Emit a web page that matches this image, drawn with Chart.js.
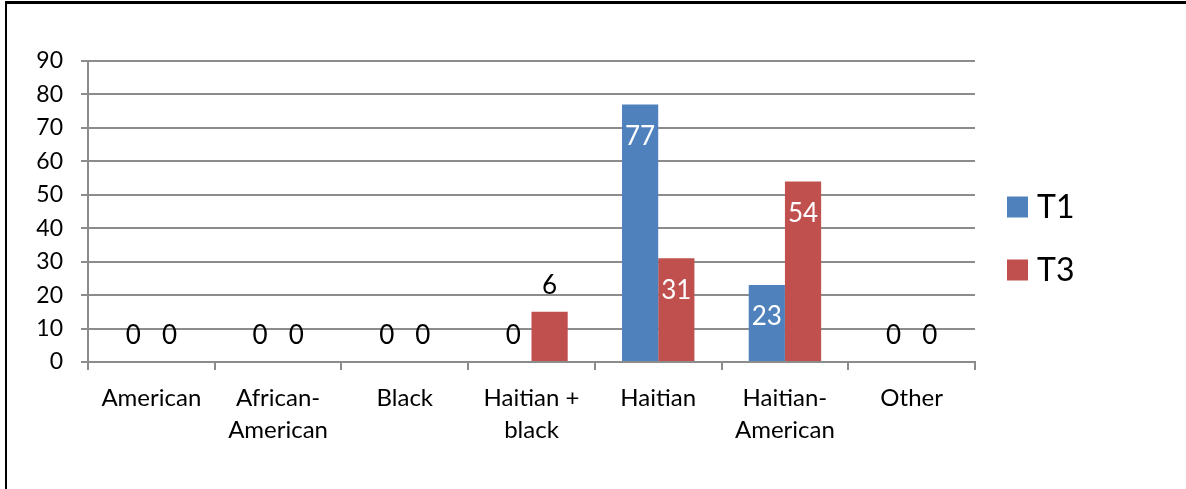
<!DOCTYPE html>
<html>
<head>
<meta charset="utf-8">
<script src="https://cdn.jsdelivr.net/npm/chart.js@4/dist/chart.umd.min.js"></script>
<style>
  html, body { margin: 0; padding: 0; background: #fff; }
  #wrap { position: relative; width: 1186px; height: 489px; }
  #frame {
    position: absolute; left: 5px; top: 1px; right: 0; bottom: 0;
    border-left: 2px solid #000; border-top: 3px solid #000;
  }
  #chart { position: absolute; left: 0; top: 0; }
</style>
</head>
<body>
<div id="wrap">
  <div id="frame"></div>
  <canvas id="chart" width="1186" height="489"></canvas>
</div>
<script>
const categories = [
  "American",
  ["African-", "American"],
  "Black",
  ["Haitian +", "black"],
  "Haitian",
  ["Haitian-", "American"],
  "Other",
];
const t1Values = [0, 0, 0, 0, 77, 23, 0];
const t3Values = [0, 0, 0, 15, 31, 54, 0];
// the labels printed on the bars (the 6 sits on a bar drawn at 15)
const t1Labels = ["0", "0", "0", "0", "77", "23", "0"];
const t3Labels = ["0", "0", "0", "6", "31", "54", "0"];
const yTicks = [0, 10, 20, 30, 40, 50, 60, 70, 80, 90];

const FONT = "Lato, 'Open Sans', sans-serif";
const gridColor = "#8c8c8c";

// labels on the bars: white inside tall bars, black above short ones
const barLabels = {
  id: "barLabels",
  afterDatasetsDraw(chart) {
    const ctx = chart.ctx;
    ctx.save();
    ctx.font = "26px " + FONT;
    ctx.textAlign = "center";
    ctx.textBaseline = "middle";
    chart.data.datasets.forEach((ds, i) => {
      const meta = chart.getDatasetMeta(i);
      meta.data.forEach((bar, j) => {
        const h = bar.base - bar.y;
        if (h > 60) {
          ctx.fillStyle = "#fff";
          ctx.fillText(ds.labels[j], bar.x, bar.y + 32);
        } else {
          ctx.fillStyle = "#000";
          ctx.fillText(ds.labels[j], bar.x, bar.y - 26);
        }
      });
    });
    ctx.restore();
  },
};

// legend drawn to the right of the plot, like the original
const sideLegend = {
  id: "sideLegend",
  afterDraw(chart) {
    const ctx = chart.ctx;
    const area = chart.chartArea;
    const x = area.right + 32;
    ctx.save();
    ctx.font = "32px " + FONT;
    ctx.textBaseline = "middle";
    chart.data.datasets.forEach((ds, i) => {
      const cy = 207 + i * 63;
      ctx.fillStyle = ds.backgroundColor;
      ctx.fillRect(x, cy - 10.5, 21, 21);
      ctx.fillStyle = "#000";
      ctx.fillText(ds.label, x + 30, cy + 1);
    });
    ctx.restore();
  },
};

const chart = document.querySelector("#chart").getContext("2d");

new Chart(chart, {
  type: "bar",
  data: {
    labels: categories,
    datasets: [
      {
        label: "T1",
        data: t1Values,
        labels: t1Labels,
        backgroundColor: "#4F81BD",
      },
      {
        label: "T3",
        data: t3Values,
        labels: t3Labels,
        backgroundColor: "#C0504D",
      },
    ],
  },
  options: {
    responsive: false,
    animation: false,
    layout: { padding: { left: 0, top: 61, right: 211, bottom: 0 } },
    plugins: {
      legend: { display: false },
      tooltip: { enabled: false },
    },
    datasets: {
      bar: { categoryPercentage: 2 / 3.5, barPercentage: 1 },
    },
    scales: {
      x: {
        afterFit: (s) => { s.height = 127; },
        grid: {
          drawOnChartArea: false,
          drawTicks: true,
          tickLength: 8,
          color: gridColor,
          lineWidth: 2,
        },
        border: { color: gridColor, width: 2 },
        ticks: {
          color: "#000",
          padding: 12,
          maxRotation: 0,
          autoSkip: false,
          font: { family: FONT, size: 24, lineHeight: 1.35 },
        },
      },
      y: {
        min: 0,
        max: 90,
        afterFit: (s) => { s.width = 88; },
        afterBuildTicks: (s) => { s.ticks = yTicks.map((v) => ({ value: v })); },
        grid: { color: gridColor, lineWidth: 2, tickLength: 7 },
        border: { color: gridColor, width: 2 },
        ticks: {
          color: "#000",
          padding: 18,
          font: { family: FONT, size: 23 },
        },
      },
    },
  },
  plugins: [barLabels, sideLegend],
});
</script>
</body>
</html>
